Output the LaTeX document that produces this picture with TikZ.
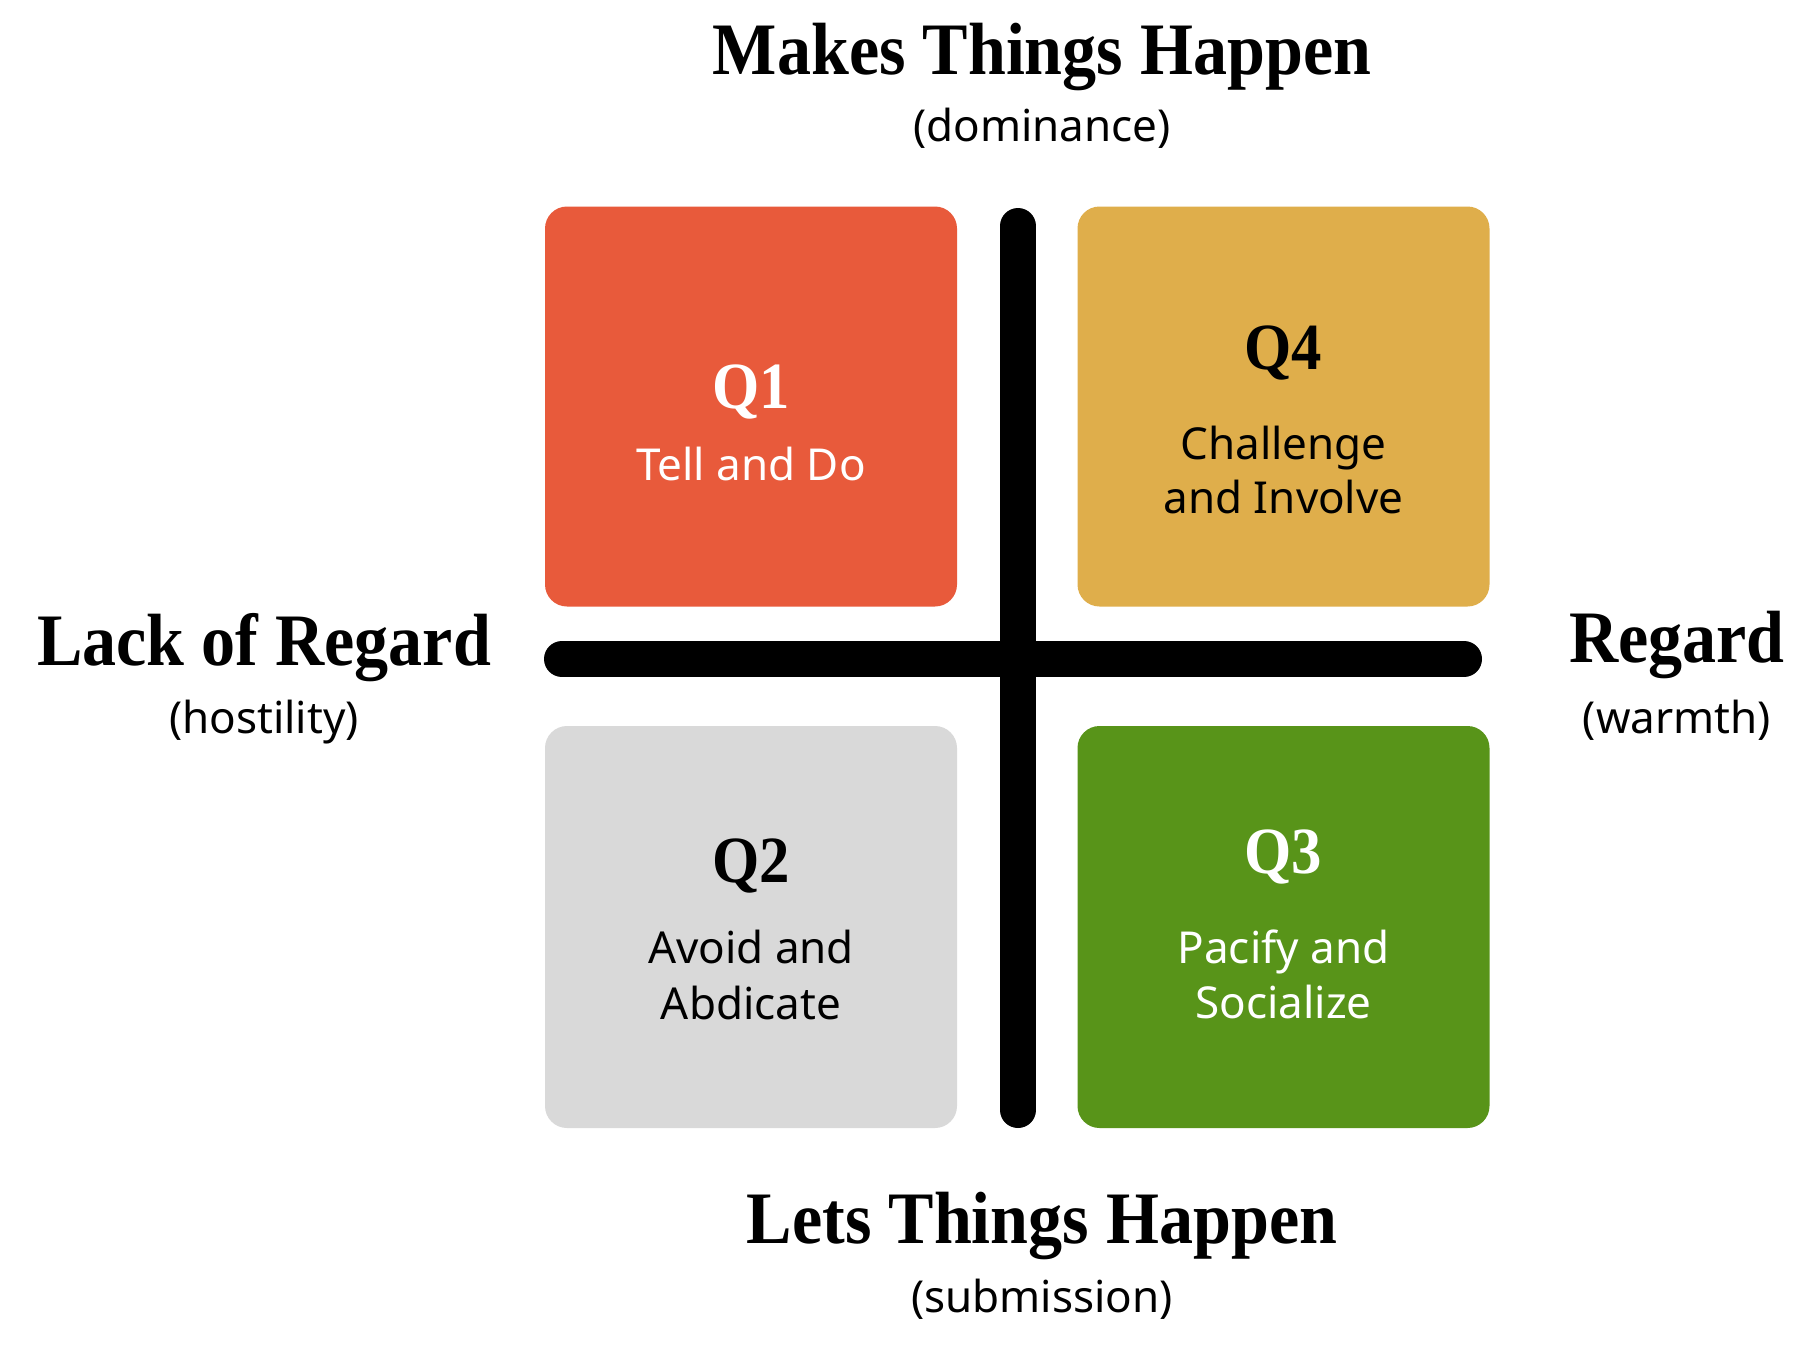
\documentclass[tikz,border=0pt]{standalone}
\usepackage{fontspec}
\setmainfont{Noto Sans}
\newfontfamily\titlefont[FakeStretch=0.92]{Liberation Serif}
\definecolor{qone}{HTML}{E85A3B}
\definecolor{qfour}{HTML}{DFAE4B}
\definecolor{qtwo}{HTML}{D9D9D9}
\definecolor{qthree}{HTML}{589419}
\tikzset{
  qbox/.style={rectangle, rounded corners=22pt, draw=none, minimum width=412pt, minimum height=400pt, inner sep=0pt},
  axistitle/.style={anchor=base, inner sep=0pt, font=\titlefont\bfseries\fontsize{74}{80}\selectfont},
  axissub/.style={anchor=base, inner sep=0pt, font=\fontsize{44}{50}\selectfont},
  qlabel/.style={anchor=base, inner sep=0pt, font=\titlefont\bfseries\fontsize{66}{72}\selectfont},
  qtext/.style={anchor=base, inner sep=0pt, font=\fontsize{44}{50}\selectfont},
  axisbar/.style={line width=36pt, line cap=round, black}
}
\begin{document}
\begin{tikzpicture}[x=1pt,y=-1pt]
\useasboundingbox (0,0) rectangle (1820,1347);
\fill[white] (0,0) rectangle (1820,1347);

% quadrant boxes
\node[qbox, fill=qone]   (q1) at (751,406.5) {};
\node[qbox, fill=qfour]  (q4) at (1283.5,406.5) {};
\node[qbox, fill=qtwo, minimum height=402pt]   (q2) at (751,927) {};
\node[qbox, fill=qthree, minimum height=402pt] (q3) at (1283.5,927) {};

% axes
\coordinate (vtop) at (1018,226);
\coordinate (vbot) at (1018,1110);
\coordinate (hleft) at (562,659);
\coordinate (hright) at (1464,659);
\draw[axisbar] (vtop) -- (vbot);
\draw[axisbar] (hleft) -- (hright);

% axis titles
\node[axistitle] (top) at (1042,74) {Makes Things Happen};
\node[axissub] (topsub) at (1042,141) {(dominance)};
\node[axistitle] (bot) at (1042,1243) {Lets Things Happen};
\node[axissub] (botsub) at (1042,1312) {(submission)};
\node[axistitle] (left) at (264,665) {Lack of Regard};
\node[axissub] (leftsub) at (264,733) {(hostility)};
\node[axistitle] (right) at (1677,662) {Regard};
\node[axissub] (rightsub) at (1677,733) {(warmth)};

% quadrant texts
\node[qlabel, text=white] (q1l) at (751,408) {Q1};
\node[qtext, text=white] (q1a) at (751,480) {Tell and Do};

\node[qlabel, text=black] (q4l) at (1283.5,369) {Q4};
\node[qtext, text=black] (q4a) at (1283.5,459) {Challenge};
\node[qtext, text=black] (q4b) at (1283.5,513) {and Involve};

\node[qlabel, text=black] (q2l) at (751,882) {Q2};
\node[qtext, text=black] (q2a) at (751,963) {Avoid and};
\node[qtext, text=black] (q2b) at (751,1019) {Abdicate};

\node[qlabel, text=white] (q3l) at (1283.5,873) {Q3};
\node[qtext, text=white] (q3a) at (1283.5,963) {Pacify and};
\node[qtext, text=white] (q3b) at (1283.5,1018) {Socialize};
\end{tikzpicture}
\end{document}
